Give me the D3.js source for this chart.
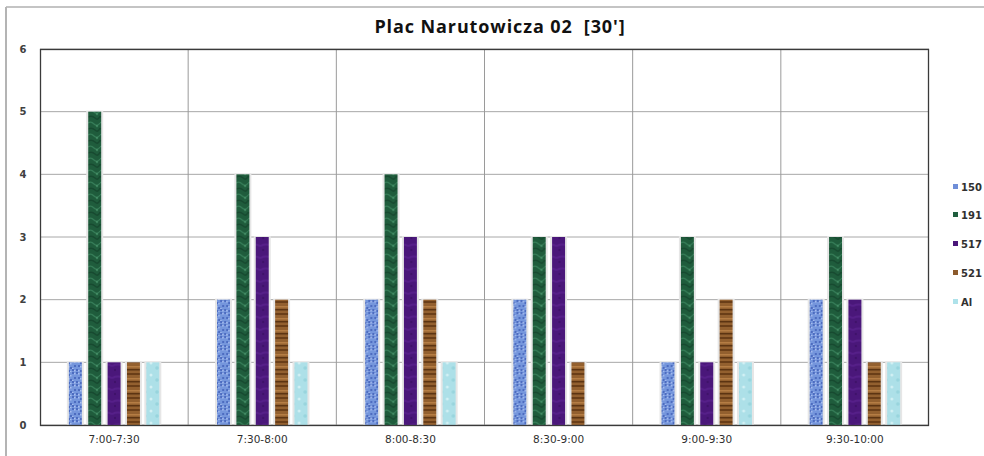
<!DOCTYPE html>
<html>
<head>
<meta charset="utf-8">
<script src="https://cdn.jsdelivr.net/npm/d3@7"></script>
<style>
html,body{margin:0;padding:0;background:#fff;}
svg{display:block;}
</style>
</head>
<body>
<svg id="chart" width="984" height="456"></svg>
<script>
const categories = ["7:00-7:30","7:30-8:00","8:00-8:30","8:30-9:00","9:00-9:30","9:30-10:00"];
const seriesNames = ["150","191","517","521","Al"];
const s150 = [1,2,2,2,1,2];
const s191 = [5,4,4,3,3,3];
const s517 = [1,3,3,3,1,2];
const s521 = [1,2,2,1,2,1];
const sAl  = [1,1,1,0,1,1];
const yTicks = [0,1,2,3,4,5,6];
const title = "Plac Narutowicza 02  [30']";

const seriesValues = [s150,s191,s517,s521,sAl];
const baseColors = ["#6f8ed8","#1f5e3e","#4a167a","#8c5a2c","#aee2ea"];

const svg = d3.select("#chart");
const W = 984, H = 456;
const plot = {left:40, right:929, top:49, bottom:425};

// patterns for textured bars
const defs = svg.append("defs");
function makePattern(id, base, build){
  const p = defs.append("pattern").attr("id", id).attr("patternUnits","userSpaceOnUse")
    .attr("width", 12).attr("height", 12);
  p.append("rect").attr("width",12).attr("height",12).attr("fill", base);
  build(p);
}
makePattern("p0", "#7596dc", p => {
  [[0,0],[4,2],[8,0],[2,5],[6,7],[10,5],[0,9],[4,10],[8,9]].forEach(([x,y])=>{
    p.append("rect").attr("x",x).attr("y",y).attr("width",2).attr("height",2).attr("fill","#4d6cc0");
    p.append("rect").attr("x",x+2).attr("y",y+1).attr("width",1.5).attr("height",1.5).attr("fill","#a9bff0");
  });
});
makePattern("p1", "#1f5c3c", p => {
  p.append("path").attr("d","M0,3 Q3,1 6,4 T12,3").attr("stroke","#3f8a62").attr("stroke-width",1.2).attr("fill","none").attr("opacity",0.7);
  p.append("path").attr("d","M0,9 Q4,7 7,10 T12,8").attr("stroke","#174a30").attr("stroke-width",1.5).attr("fill","none");
  p.append("circle").attr("cx",9).attr("cy",6).attr("r",1.2).attr("fill","#4c9a70").attr("opacity",0.6);
});
makePattern("p2", "#4a177a", p => {
  p.append("path").attr("d","M0,6 Q6,3 12,6").attr("stroke","#5d2592").attr("stroke-width",2).attr("fill","none").attr("opacity",0.6);
  p.append("circle").attr("cx",3).attr("cy",10).attr("r",1.2).attr("fill","#3a0f63").attr("opacity",0.7);
});
makePattern("p3", "#93602f", p => {
  p.append("rect").attr("x",0).attr("y",1).attr("width",12).attr("height",2).attr("fill","#6a3e18");
  p.append("rect").attr("x",0).attr("y",6).attr("width",12).attr("height",1.5).attr("fill","#b57d44");
  p.append("rect").attr("x",0).attr("y",9).attr("width",12).attr("height",1.5).attr("fill","#5c3412");
});
makePattern("p4", "#ade0e8", p => {
  p.append("circle").attr("cx",3).attr("cy",3).attr("r",1.5).attr("fill","#d2f0f4");
  p.append("circle").attr("cx",9).attr("cy",8).attr("r",1.8).attr("fill","#8fcfd9").attr("opacity",0.7);
});

// outer frame
svg.append("line").attr("x1",6).attr("x2",W).attr("y1",7).attr("y2",7).attr("stroke","#c4c4c4").attr("stroke-width",2);
svg.append("line").attr("x1",6).attr("x2",6).attr("y1",7).attr("y2",H).attr("stroke","#b4b4b4").attr("stroke-width",2);

// title
svg.append("text").attr("x",500).attr("y",33).attr("text-anchor","middle")
  .attr("xml:space","preserve").style("white-space","pre")
  .attr("font-family","'Open Sans', 'Liberation Sans', sans-serif").attr("font-weight","bold")
  .attr("font-size",18).attr("letter-spacing",0.9).attr("fill","#111").text(title);

const x = d3.scaleBand().domain(categories).range([plot.left, plot.right]).padding(0);
const xi = d3.scaleBand().domain(seriesNames).range([0, x.bandwidth()]).paddingInner(0.33).paddingOuter(1.49);
const y = d3.scaleLinear().domain([0,6]).range([plot.bottom, plot.top]);

// horizontal gridlines
svg.append("g").selectAll("line").data(yTicks).join("line")
  .attr("x1",plot.left).attr("x2",plot.right)
  .attr("y1",d=>y(d)).attr("y2",d=>y(d))
  .attr("stroke","#a8a8a8").attr("stroke-width",1);
// vertical category separators
svg.append("g").selectAll("line").data(categories.slice(1)).join("line")
  .attr("x1",d=>x(d)).attr("x2",d=>x(d))
  .attr("y1",plot.top).attr("y2",plot.bottom)
  .attr("stroke","#9a9a9a").attr("stroke-width",1);

// bars
const groups = svg.append("g").selectAll("g").data(categories).join("g")
  .attr("transform", d=>`translate(${x(d)},0)`);
groups.each(function(cat, ci){
  const g = d3.select(this);
  seriesNames.forEach((s, si)=>{
    const v = seriesValues[si][ci];
    if (v <= 0) return;
    const bx = xi(s), bw = xi.bandwidth();
    // light halo
    g.append("rect").attr("x",bx-2).attr("y",y(v)-1).attr("width",bw+4).attr("height",y(0)-y(v)+1)
      .attr("fill","#e6e6e6");
    g.append("rect").attr("x",bx).attr("y",y(v)).attr("width",bw).attr("height",y(0)-y(v))
      .attr("fill",`url(#p${si})`);
  });
});

// plot border
svg.append("rect").attr("x",plot.left+0.5).attr("y",plot.top+0.5)
  .attr("width",plot.right-plot.left-1).attr("height",plot.bottom-plot.top)
  .attr("fill","none").attr("stroke","#3a3a3a").attr("stroke-width",1.3);

// y axis labels
const yAxis = d3.axisLeft(y).tickValues(yTicks).tickSize(0).tickPadding(0).tickFormat(d3.format("d"));
const ya = svg.append("g").attr("transform","translate(23,0)").call(yAxis);
ya.select(".domain").remove();
ya.selectAll("text").attr("font-family","'DejaVu Sans', Verdana, sans-serif").attr("font-size",10)
  .attr("font-weight","bold").attr("fill","#404040").attr("text-anchor","middle").attr("dy","0.32em");

// x axis labels
const xAxis = d3.axisBottom(x).tickSize(0).tickPadding(0);
const xa = svg.append("g").attr("transform",`translate(0,${plot.bottom+11})`).call(xAxis);
xa.select(".domain").remove();
xa.selectAll("text").attr("font-family","'DejaVu Sans', Verdana, sans-serif").attr("font-size",10.5)
  .attr("fill","#303030").attr("dy","0.71em");

// legend
const legY = [187,215,244,273,302];
const leg = svg.append("g").selectAll("g").data(seriesNames).join("g")
  .attr("transform",(d,i)=>`translate(953,${legY[i]})`);
leg.append("rect").attr("x",0).attr("y",-3).attr("width",5).attr("height",5).attr("fill",(d,i)=>baseColors[i]);
leg.append("text").attr("x",8).attr("y",0).attr("dy","0.35em")
  .attr("font-family","'DejaVu Sans', Verdana, sans-serif").attr("font-size",10).attr("font-weight","bold")
  .attr("fill","#303030").text(d=>d);
</script>
</body>
</html>
